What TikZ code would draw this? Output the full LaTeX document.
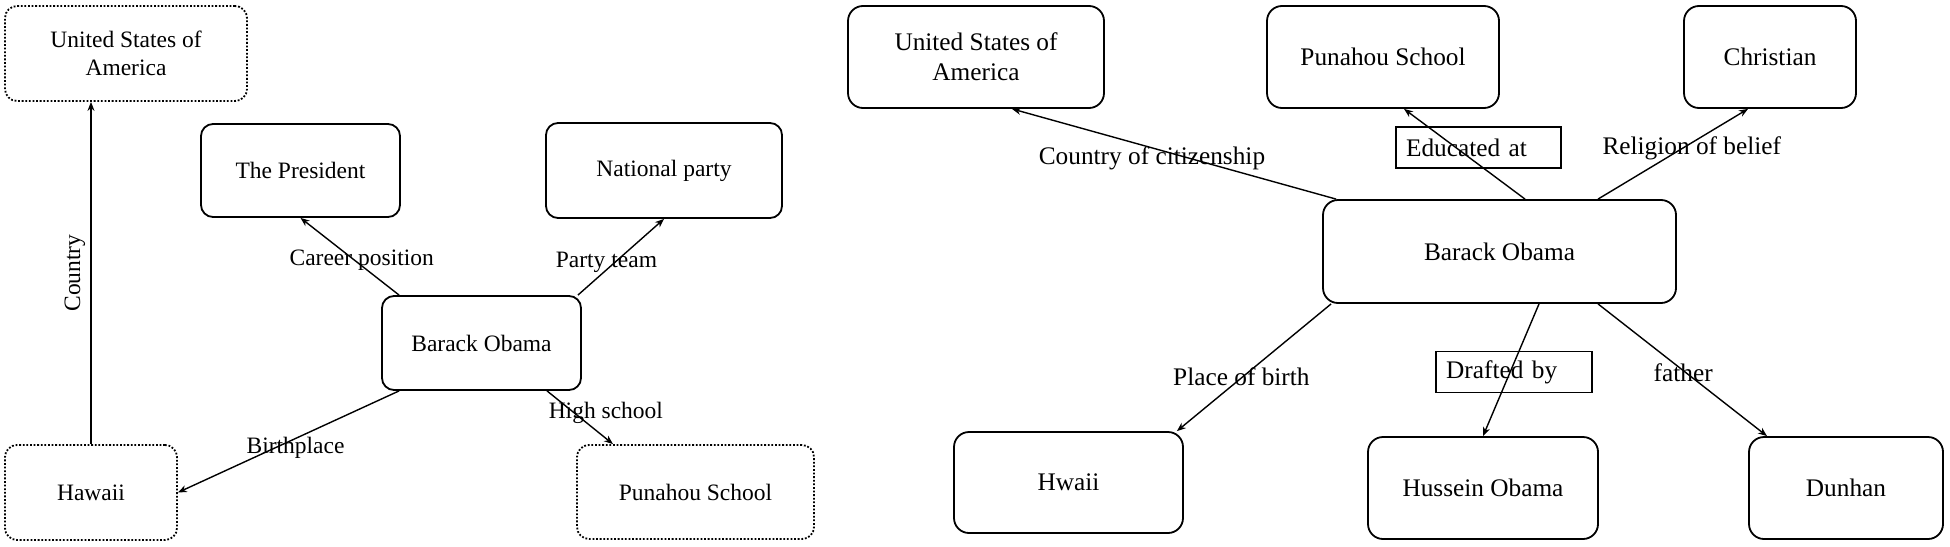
\documentclass[tikz,border=0pt]{standalone}
\usepackage{fontspec}
\setmainfont{Liberation Serif}
\usetikzlibrary{arrows.meta}
\begin{document}
\begin{tikzpicture}[x=1pt,y=-1pt,
  box/.style={draw, line width=1.8pt, rounded corners=12pt, inner sep=0pt, align=center},
  lbox/.style={box, font=\fontsize{23.5}{28}\selectfont},
  dbox/.style={lbox, dash pattern=on 1.8pt off 1.8pt},
  rbox/.style={box, rounded corners=15pt, font=\fontsize{25.3}{30}\selectfont},
  conn/.style={line width=1.4pt, -{Stealth[length=9pt,width=7pt]}},
  lab/.style={inner sep=0pt, font=\fontsize{23.5}{28}\selectfont},
  rlab/.style={inner sep=0pt, font=\fontsize{25.3}{30}\selectfont},
  tagbox/.style={draw, line width=1.5pt, rlab, minimum height=41pt, inner xsep=10pt, align=left}
]
\useasboundingbox (0,0) rectangle (1950,546);
% ---------- left diagram ----------
\node[dbox, minimum width=242pt, minimum height=95pt] (lusa) at (126,53.5) {United States of\\America};
\node[lbox, minimum width=199pt, minimum height=93pt] (lpres) at (300.5,170.5) {The President};
\node[lbox, minimum width=236pt, minimum height=95pt] (lnat) at (664,170.5) {National party};
\node[lbox, minimum width=199pt, minimum height=94pt] (lbo) at (481.5,343) {Barack Obama};
\node[dbox, minimum width=172pt, minimum height=95pt] (lhaw) at (91,492.5) {Hawaii};
\node[dbox, minimum width=237pt, minimum height=94pt] (lpun) at (695.5,492) {Punahou School};

\draw[conn] (lhaw.north) -- (lhaw.north |- lusa.south)
  node[lab, midway, rotate=90, anchor=south, inner sep=5pt] {Country};
\draw[conn] ([xshift=18pt]lbo.north west) -- (lpres.south)
  node[lab, pos=0.45, xshift=7pt] {Career position};
\draw[conn] ([xshift=-4pt]lbo.north east) -- (lnat.south)
  node[lab, pos=0.436, xshift=-9pt] {Party team};
\draw[conn] ([xshift=65.5pt]lbo.south) -- ([xshift=-82.5pt]lpun.north)
  node[lab, pos=0.407, xshift=32pt] {High school};
\draw[conn] ([xshift=18pt]lbo.south west) -- (lhaw.east)
  node[lab, pos=0.468, yshift=-9pt] {Birthplace};
% ---------- right diagram ----------
\node[rbox, minimum width=256pt, minimum height=102pt] (rusa) at (976,57) {United States of\\America};
\node[rbox, minimum width=232pt, minimum height=102pt] (rpun) at (1383,57) {Punahou School};
\node[rbox, minimum width=172pt, minimum height=102pt] (rchr) at (1770,57) {Christian};
\node[rbox, minimum width=353pt, minimum height=103pt] (rbo) at (1499.5,251.5) {Barack Obama};
\node[rbox, minimum width=229pt, minimum height=101pt] (rhw) at (1068.5,482.5) {Hwaii};
\node[rbox, minimum width=230pt, minimum height=102pt] (rhus) at (1483,488) {Hussein Obama};
\node[rbox, minimum width=194pt, minimum height=102pt] (rdun) at (1846,488) {Dunhan};

\draw[conn] ([xshift=14pt]rbo.north west) -- ([xshift=36pt]rusa.south)
  node[rlab, pos=0.457, xshift=-36pt] {Country of citizenship};
\draw[conn] ([xshift=25.5pt]rbo.north) -- ([xshift=21pt]rpun.south)
  node[tagbox, text width=145pt, pos=0.57, xshift=22.5pt] {Educated at};
\draw[conn] ([xshift=98.5pt]rbo.north) -- ([xshift=-22pt]rchr.south)
  node[rlab, pos=0.565, xshift=9pt] {Religion of belief};
\draw[conn] ([xshift=9pt]rbo.south west) -- ([xshift=-7pt]rhw.north east)
  node[rlab, pos=0.569, xshift=-2pt] {Place of birth};
\draw[conn] ([xshift=39.5pt]rbo.south) -- (rhus.north)
  node[tagbox, text width=136pt, pos=0.515, xshift=4pt] {Drafted by};
\draw[conn] ([xshift=98.5pt]rbo.south) -- ([xshift=-79pt]rdun.north)
  node[rlab, pos=0.522, xshift=-3pt] {father};
\end{tikzpicture}
\end{document}
